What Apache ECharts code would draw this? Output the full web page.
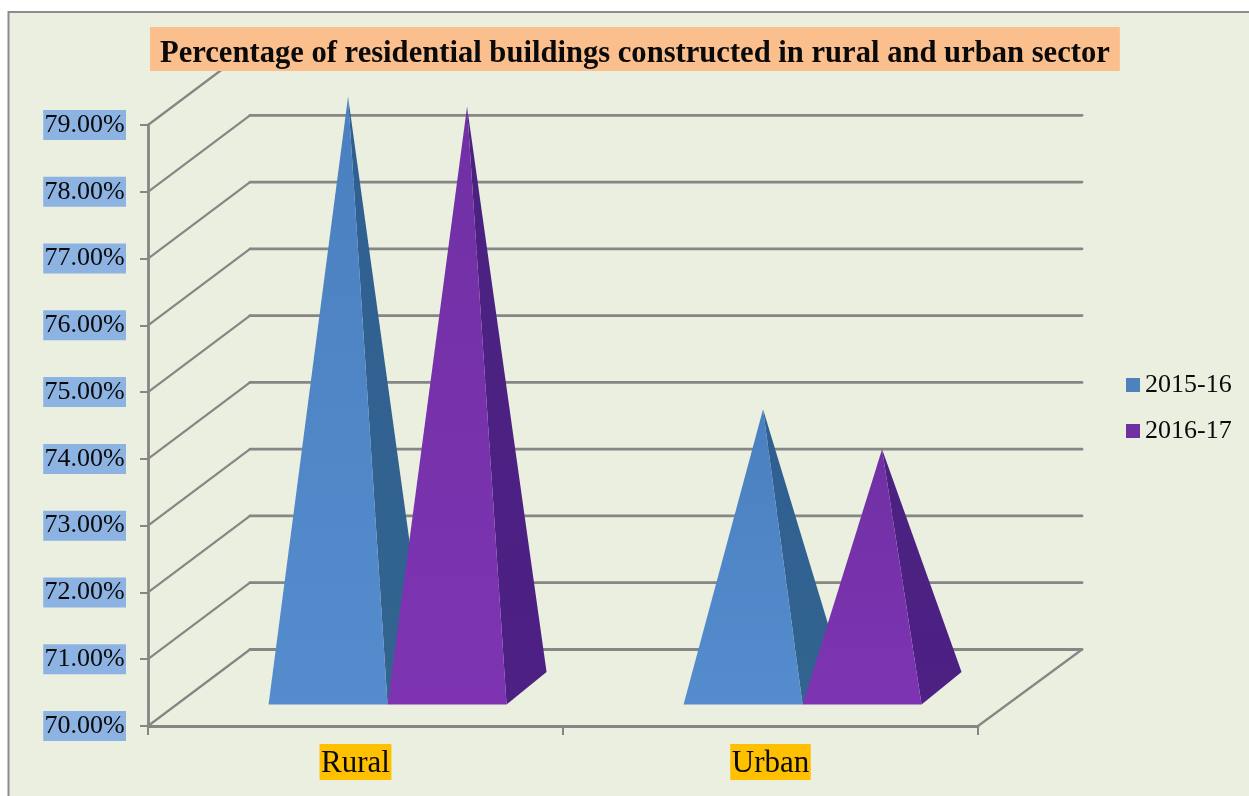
<!DOCTYPE html>
<html>
<head>
<meta charset="utf-8">
<script src="https://cdn.jsdelivr.net/npm/echarts@6/dist/echarts.min.js"></script>
<style>
html,body{margin:0;padding:0;background:#fff;}
#c{width:1249px;height:796px;}
</style>
</head>
<body>
<div id="c"></div>
<script>
const titleText = 'Percentage of residential buildings constructed in rural and urban sector';
const categories = ['Rural', 'Urban'];
const seriesNames = ['2015-16', '2016-17'];
const values2015 = [78.86, 74.18];
const values2016 = [78.71, 73.58];
const yTicks = [70, 71, 72, 73, 74, 75, 76, 77, 78, 79];

const SERIF = '"Liberation Serif","Times New Roman",serif';
const DEPTH_X = 102, DEPTH_Y = -76.5;      // wall offset from the front plane
const BASE_W = 119;                         // pyramid base width
const BASE_NEAR = 0.28;                     // base front edge position along the depth
const BASE_DX = 40, BASE_DY = -32.5;        // base edge running into the depth
const CENTER_NUDGE = 3.5;
const AXIS_GREY = '#868686';

function wallLines(params, api) {
  const v = api.value(0);
  const cs = params.coordSys;
  const y = api.coord([0, v])[1];
  const x0 = cs.x, x1 = cs.x + cs.width;
  const backY = y + DEPTH_Y;
  const children = [{
    type: 'line',
    shape: { x1: x0, y1: y, x2: x0 + DEPTH_X, y2: backY },
    style: { stroke: AXIS_GREY, lineWidth: 2.2, lineCap: 'round' }
  }, {
    type: 'line',
    shape: { x1: x0 + DEPTH_X, y1: backY, x2: x1 + DEPTH_X + 2, y2: backY },
    style: { stroke: AXIS_GREY, lineWidth: 2.8, lineCap: 'round' }
  }];
  if (v === 70) {
    children.push({
      type: 'line',
      shape: { x1: x1, y1: y, x2: x1 + DEPTH_X + 2, y2: backY },
      style: { stroke: AXIS_GREY, lineWidth: 2.2, lineCap: 'round' }
    });
  }
  return { type: 'group', children };
}

function pyramid(sign, frontTop, frontBottom, sideTop, sideBottom) {
  return function (params, api) {
    const cat = api.value(0);
    const floor = api.coord([cat, 70]);
    const top = api.coord([cat, api.value(1)]);
    const cx = floor[0] + CENTER_NUDGE + sign * BASE_W / 2;
    const nx = DEPTH_X * BASE_NEAR, ny = DEPTH_Y * BASE_NEAR;
    const fl = [cx - BASE_W / 2 + nx, floor[1] + ny];
    const fr = [cx + BASE_W / 2 + nx, floor[1] + ny];
    const br = [fr[0] + BASE_DX, fr[1] + BASE_DY];
    const apex = [cx + nx + BASE_DX / 2, top[1] + ny + BASE_DY / 2];
    return {
      type: 'group',
      children: [{
        type: 'polygon',
        shape: { points: [fr, br, apex] },
        style: { fill: { type: 'linear', x: 0, y: 0, x2: 0, y2: 1, colorStops: [{ offset: 0, color: sideTop }, { offset: 1, color: sideBottom }] } }
      }, {
        type: 'polygon',
        shape: { points: [fl, fr, apex] },
        style: { fill: { type: 'linear', x: 0, y: 0, x2: 0, y2: 1, colorStops: [{ offset: 0, color: frontTop }, { offset: 1, color: frontBottom }] } }
      }]
    };
  };
}

const chart = echarts.init(document.getElementById('c'), null, { renderer: 'canvas' });
chart.setOption({
  animation: false,
  backgroundColor: '#ffffff',
  textStyle: { fontFamily: SERIF },
  title: {
    text: titleText,
    left: 150,
    top: 27,
    backgroundColor: '#fbbf8e',
    padding: [11, 10, 1, 10],
    textStyle: { fontFamily: SERIF, fontWeight: 'bold', fontSize: 30.6, lineHeight: 32, color: '#0a0a0a' }
  },
  legend: {
    data: seriesNames,
    orient: 'vertical',
    left: 1126,
    top: 370,
    padding: 0,
    itemWidth: 14,
    itemHeight: 14,
    itemGap: 16,
    icon: 'rect',
    selectedMode: false,
    textStyle: { fontFamily: SERIF, fontSize: 26, lineHeight: 30, color: '#0a0a0a' }
  },
  graphic: [{
    type: 'rect',
    z: -10,
    silent: true,
    shape: { x: 8.5, y: 12, width: 1400, height: 1000 },
    style: { fill: '#ebefdf', stroke: '#8c8c8c', lineWidth: 2 }
  }],
  grid: { left: 148, top: 125, width: 830, height: 601, containLabel: false },
  xAxis: {
    type: 'category',
    data: categories,
    axisLine: { lineStyle: { color: AXIS_GREY, width: 2.8 } },
    axisTick: { show: true, length: 9, alignWithLabel: false, lineStyle: { color: AXIS_GREY, width: 2 } },
    splitLine: { show: false },
    axisLabel: {
      fontFamily: SERIF, fontSize: 31, lineHeight: 32, color: '#0a0a0a',
      backgroundColor: '#ffc000', margin: 18, padding: [4, 1.5, 0, 1.5]
    }
  },
  yAxis: {
    type: 'value',
    min: 70,
    max: 79,
    interval: 1,
    axisLine: { show: true, lineStyle: { color: AXIS_GREY, width: 2.8 } },
    axisTick: { show: true, length: 8, lineStyle: { color: AXIS_GREY, width: 2 } },
    splitLine: { show: false },
    axisLabel: {
      formatter: v => v.toFixed(2) + '%',
      fontFamily: SERIF, fontSize: 26, lineHeight: 27, color: '#0a0a0a',
      backgroundColor: '#8db3e2', margin: 22, padding: [3, 1.3, 0, 1.3]
    }
  },
  series: [{
    type: 'custom',
    name: 'walls',
    silent: true,
    coordinateSystem: 'cartesian2d',
    renderItem: wallLines,
    encode: { y: 0 },
    data: yTicks.map(v => [v])
  }, {
    type: 'custom',
    name: seriesNames[0],
    silent: true,
    coordinateSystem: 'cartesian2d',
    itemStyle: { color: '#4f81bd' },
    renderItem: pyramid(-1, '#4a80c0', '#558ccd', '#2f5f92', '#32648f'),
    encode: { x: 0, y: 1 },
    data: values2015.map((v, i) => [i, v])
  }, {
    type: 'custom',
    name: seriesNames[1],
    silent: true,
    coordinateSystem: 'cartesian2d',
    itemStyle: { color: '#7030a0' },
    renderItem: pyramid(1, '#7030a4', '#7e34b2', '#4a2280', '#4d2084'),
    encode: { x: 0, y: 1 },
    data: values2016.map((v, i) => [i, v])
  }]
});
</script>
</body>
</html>
